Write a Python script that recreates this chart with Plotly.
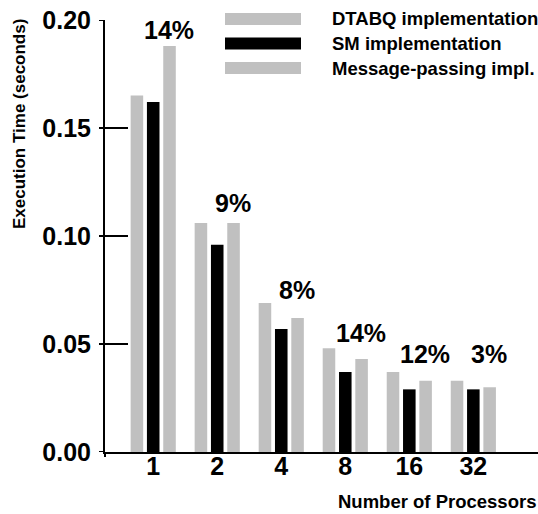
import plotly.graph_objects as go

processors = ["1", "2", "4", "8", "16", "32"]
dtabq = [0.165, 0.106, 0.069, 0.048, 0.037, 0.033]
sm = [0.162, 0.096, 0.057, 0.037, 0.029, 0.029]
msg = [0.188, 0.106, 0.062, 0.043, 0.033, 0.030]
pct_labels = ["14%", "9%", "8%", "14%", "12%", "3%"]
pct_label_y = [0.1907, 0.1106, 0.0704, 0.0505, 0.0407, 0.0407]
series_names = ["DTABQ implementation", "SM implementation", "Message-passing impl."]
yticks = [0.00, 0.05, 0.10, 0.15, 0.20]

W, H = 538, 514
L, R, T, B = 105, 0, 20, 62
PW, PH = W - L - R, H - T - B
GRAY = "#c0c0c0"
FONT = "Liberation Sans"

def px(xp):
    return (xp - L) / PW

def py(yp):
    return (H - B - yp) / PH

fig = go.Figure()
for name, vals, col in zip(series_names, [dtabq, sm, msg], [GRAY, "#000000", GRAY]):
    fig.add_trace(go.Bar(x=processors, y=vals, name=name, marker=dict(color=col, line=dict(width=0)),
                         showlegend=False))

annotations = []
for i, (lab, yv) in enumerate(zip(pct_labels, pct_label_y)):
    annotations.append(dict(x=i + 0.24, y=yv, xref="x", yref="y", text=lab, showarrow=False,
                            xanchor="center", yanchor="bottom", yshift=-6,
                            font=dict(family=FONT, size=25, color="black", weight="bold")))

shapes = []
# legend drawn manually
leg_y = [19, 43.5, 68]
for name, col, yy in zip(series_names, [GRAY, "#000000", GRAY], leg_y):
    shapes.append(dict(type="rect", xref="paper", yref="paper", x0=px(225), x1=px(301),
                       y0=py(yy + 6), y1=py(yy - 6), fillcolor=col, line=dict(width=0)))
    annotations.append(dict(x=px(330), y=py(yy), xref="paper", yref="paper", text=name,
                            showarrow=False, xanchor="left", yanchor="middle",
                            font=dict(family=FONT, size=18.5, color="black", weight="bold")))

# small outside parts of the y ticks and axis corner
for v in yticks:
    shapes.append(dict(type="line", xref="paper", yref="y", x0=px(99), x1=0, y0=v, y1=v,
                       line=dict(color="black", width=2)))
shapes.append(dict(type="line", xref="paper", yref="paper", x0=0, x1=0, y0=py(457), y1=0,
                   line=dict(color="black", width=2)))

annotations.append(dict(x=px(20), y=py(124), xref="paper", yref="paper",
                        text="Execution Time (seconds)", textangle=-90, showarrow=False,
                        xanchor="center", yanchor="middle",
                        font=dict(family=FONT, size=17, color="black", weight="bold")))
annotations.append(dict(x=1, y=py(501), xref="paper", yref="paper",
                        text="Number of Processors", showarrow=False,
                        xanchor="right", yanchor="middle",
                        font=dict(family=FONT, size=18.5, color="black", weight="bold")))

fig.update_layout(
    width=W, height=H,
    margin=dict(l=L, r=R, t=T, b=B, pad=0),
    plot_bgcolor="white", paper_bgcolor="white",
    barmode="group", bargap=0.236, bargroupgap=0.23,
    showlegend=False,
    shapes=shapes, annotations=annotations,
    xaxis=dict(type="category", range=[-0.753, 6.01], showline=True, linecolor="black", linewidth=2,
               ticks="", showgrid=False, zeroline=False, ticklabelstandoff=-9,
               tickfont=dict(family=FONT, size=25, color="black", weight="bold")),
    yaxis=dict(range=[0, 0.2], tickvals=yticks, ticktext=[f"{v:.2f}" for v in yticks],
               showline=True, linecolor="black", linewidth=2, ticks="inside", ticklen=23,
               tickwidth=2, tickcolor="black", showgrid=False, zeroline=False,
               ticklabelstandoff=7,
               tickfont=dict(family=FONT, size=25, color="black", weight="bold")),
)

fig.write_html("out.html", config={"displayModeBar": False},
               post_script="document.body.style.margin='0';")
